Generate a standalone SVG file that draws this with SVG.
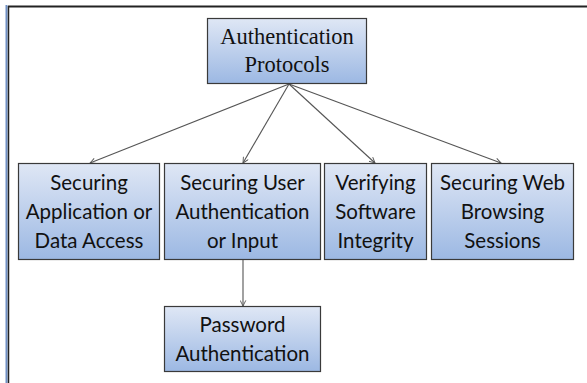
<svg xmlns="http://www.w3.org/2000/svg" width="587" height="383" viewBox="0 0 587 383">
<defs>
<linearGradient id="g" x1="0" y1="0" x2="0" y2="1">
<stop offset="0" stop-color="#dfe7f5"/>
<stop offset="1" stop-color="#9cb8e3"/>
</linearGradient>
<marker id="a" viewBox="0 0 10 10" refX="9" refY="5" markerWidth="7" markerHeight="7" orient="auto" markerUnits="userSpaceOnUse">
<path d="M1,1 L9,5 L1,9" fill="none" stroke="#555" stroke-width="1.3"/>
</marker>
<style>
.box{fill:url(#g);stroke:#3a3a3a;stroke-width:1.2}
.t{font-family:Lato,"Liberation Sans",sans-serif;font-size:20.5px;fill:#111;text-anchor:middle}
.s{font-family:"Liberation Serif",serif;font-size:22.5px;fill:#111;text-anchor:middle}
.c{stroke:#555;stroke-width:1.1;fill:none;marker-end:url(#a)}
</style>
</defs>
<rect width="587" height="383" fill="#fff"/>
<line x1="6.5" y1="5" x2="6.5" y2="383" stroke="#6f8fc4" stroke-width="2"/>
<line x1="8.5" y1="6" x2="8.5" y2="383" stroke="#222" stroke-width="1.5"/>
<line x1="8" y1="6.5" x2="587" y2="6.5" stroke="#222" stroke-width="1.8"/>
<g id="connectors">
<line class="c" x1="289" y1="84" x2="90" y2="163"/>
<line class="c" x1="289" y1="84" x2="243" y2="163"/>
<line class="c" x1="289" y1="84" x2="375" y2="163"/>
<line class="c" x1="289" y1="84" x2="501" y2="163"/>
<line class="c" x1="243" y1="259" x2="243" y2="306"/>
</g>
<g id="root">
<rect class="box" x="207.5" y="18.5" width="159" height="65"/>
<text class="s" x="287" y="44">Authentication</text>
<text class="s" x="287" y="72">Protocols</text>
</g>
<g id="n1">
<rect class="box" x="18.5" y="163.5" width="141" height="96"/>
<text class="t" x="89" y="190">Securing</text>
<text class="t" x="89" y="219">Application or</text>
<text class="t" x="89" y="248">Data Access</text>
</g>
<g id="n2">
<rect class="box" x="164.5" y="163.5" width="156" height="96"/>
<text class="t" x="242.5" y="190">Securing User</text>
<text class="t" x="242.5" y="219">Authentication</text>
<text class="t" x="242.5" y="248">or Input</text>
</g>
<g id="n3">
<rect class="box" x="324.5" y="163.5" width="102" height="96"/>
<text class="t" x="375.5" y="190">Verifying</text>
<text class="t" x="375.5" y="219">Software</text>
<text class="t" x="375.5" y="248">Integrity</text>
</g>
<g id="n4">
<rect class="box" x="431.5" y="163.5" width="142" height="96"/>
<text class="t" x="502.5" y="190">Securing Web</text>
<text class="t" x="502.5" y="219">Browsing</text>
<text class="t" x="502.5" y="248">Sessions</text>
</g>
<g id="n5">
<rect class="box" x="164.5" y="306.5" width="156" height="65"/>
<text class="t" x="242.5" y="332">Password</text>
<text class="t" x="242.5" y="361">Authentication</text>
</g>
</svg>
